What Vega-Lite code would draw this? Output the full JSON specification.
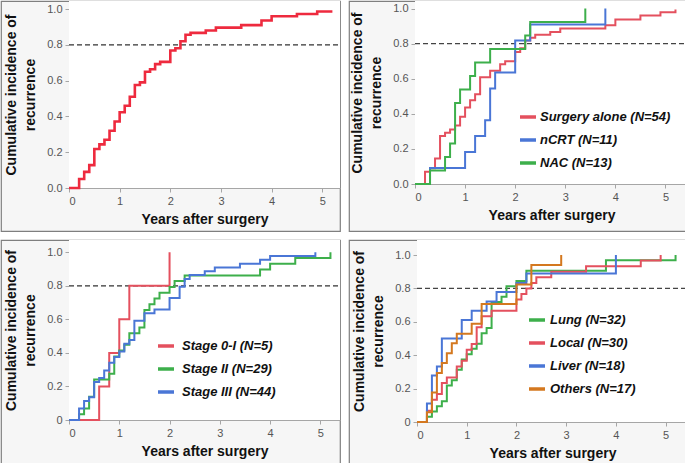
{
  "$schema": "https://vega.github.io/schema/vega-lite/v6.json",
  "padding": 0,
  "background": "white",
  "config": {
    "font": "Liberation Sans",
    "axis": {
      "grid": false,
      "domainColor": "#a6a6a6",
      "tickColor": "#a6a6a6",
      "tickSize": 4,
      "labelColor": "#555555",
      "labelFont": "Liberation Sans",
      "labelFontSize": 11,
      "titleFont": "Liberation Sans",
      "titleFontSize": 14,
      "titleFontWeight": "bold",
      "titleColor": "#111111"
    },
    "legend": {
      "orient": "none",
      "title": null,
      "symbolType": "stroke",
      "symbolSize": 256,
      "symbolStrokeWidth": 3.5,
      "labelFont": "Liberation Sans",
      "labelFontSize": 13,
      "labelFontWeight": "bold",
      "labelFontStyle": "italic",
      "labelColor": "#111111",
      "rowPadding": 6,
      "padding": 0
    }
  },
  "resolve": {"scale": {"color": "independent"}, "legend": {"color": "independent"}},
  "spacing": 7,
  "vconcat": [
    {
      "spacing": 6,
      "resolve": {"scale": {"color": "independent"}, "legend": {"color": "independent"}},
      "hconcat": [
        {
          "width": 339,
          "height": 230,
          "view": {"fill": "#f6f6f6", "stroke": "#7f7f7f", "strokeWidth": 1.2},
          "layer": [
            {
              "data": {"values": [{}]},
              "mark": {"type": "rect", "color": "white"},
              "encoding": {
                "x": {"datum": 0, "type": "quantitative", "scale": {"domain": [0, 5.35], "range": [68, 339], "nice": false}},
                "x2": {"datum": 5.35},
                "y": {"datum": 0, "type": "quantitative", "scale": {"domain": [0, 1.045], "range": [187, 0], "nice": false}},
                "y2": {"datum": 1.045}
              }
            },
            {
              "data": {"values": [{}]},
              "mark": {"type": "rule", "color": "#333333", "strokeDash": [5, 3], "strokeWidth": 1.2},
              "encoding": {
                "x": {"datum": 0, "type": "quantitative"},
                "x2": {"datum": 5.35},
                "y": {"datum": 0.8, "type": "quantitative"}
              }
            },
            {
              "data": {"values": [
                {"t": 0, "v": 0}, {"t": 0.2, "v": 0.05}, {"t": 0.3, "v": 0.09}, {"t": 0.4, "v": 0.128},
                {"t": 0.5, "v": 0.218}, {"t": 0.6, "v": 0.244}, {"t": 0.7, "v": 0.27}, {"t": 0.8, "v": 0.32},
                {"t": 0.9, "v": 0.372}, {"t": 1.0, "v": 0.423}, {"t": 1.1, "v": 0.46}, {"t": 1.2, "v": 0.51},
                {"t": 1.3, "v": 0.576}, {"t": 1.4, "v": 0.59}, {"t": 1.5, "v": 0.65}, {"t": 1.6, "v": 0.664},
                {"t": 1.7, "v": 0.692}, {"t": 1.8, "v": 0.705}, {"t": 2.0, "v": 0.768}, {"t": 2.1, "v": 0.781},
                {"t": 2.2, "v": 0.82}, {"t": 2.3, "v": 0.856}, {"t": 2.4, "v": 0.867}, {"t": 2.7, "v": 0.88},
                {"t": 2.9, "v": 0.896}, {"t": 3.4, "v": 0.91}, {"t": 3.8, "v": 0.936}, {"t": 4.0, "v": 0.96},
                {"t": 4.5, "v": 0.972}, {"t": 4.9, "v": 0.986}, {"t": 5.2, "v": 0.986}
              ]},
              "mark": {"type": "line", "interpolate": "step-after", "strokeWidth": 2.6, "color": "#ee2a3e"},
              "encoding": {
                "x": {"field": "t", "type": "quantitative",
                  "axis": {"title": "Years after surgery", "values": [0, 0.5, 1, 1.5, 2, 2.5, 3, 3.5, 4, 4.5, 5],
                    "labelExpr": "datum.value % 1 === 0 ? format(datum.value, 'd') : ''",
                    "offset": -43, "labelPadding": 3, "titlePadding": 6}},
                "y": {"field": "v", "type": "quantitative",
                  "axis": {"title": ["Cumulative incidence of", "recurrence"],
                    "values": [0, 0.1, 0.2, 0.3, 0.4, 0.5, 0.6, 0.7, 0.8, 0.9, 1.0],
                    "labelExpr": "round(datum.value * 10) % 2 === 0 ? format(datum.value, '.1f') : ''",
                    "offset": -68, "labelPadding": 3, "titlePadding": 9, "titleLineHeight": 19}}
              }
            }
          ]
        },
        {
          "width": 339,
          "height": 230,
          "view": {"fill": "#f6f6f6", "stroke": "#7f7f7f", "strokeWidth": 1.2},
          "layer": [
            {
              "data": {"values": [{}]},
              "mark": {"type": "rect", "color": "white"},
              "encoding": {
                "x": {"datum": 0, "type": "quantitative", "scale": {"domain": [0, 5.45], "range": [66, 339], "nice": false}},
                "x2": {"datum": 5.45},
                "y": {"datum": 0, "type": "quantitative", "scale": {"domain": [0, 1.043], "range": [183, 0], "nice": false}},
                "y2": {"datum": 1.043}
              }
            },
            {
              "data": {"values": [{}]},
              "mark": {"type": "rule", "color": "#444444", "strokeDash": [5, 3], "strokeWidth": 1.2},
              "encoding": {
                "x": {"datum": 0, "type": "quantitative"},
                "x2": {"datum": 5.45},
                "y": {"datum": 0.8, "type": "quantitative"}
              }
            },
            {
              "data": {"values": [
                {"g": "Surgery alone (N=54)", "t": 0, "v": 0}, {"g": "Surgery alone (N=54)", "t": 0.2, "v": 0.07},
                {"g": "Surgery alone (N=54)", "t": 0.3, "v": 0.09}, {"g": "Surgery alone (N=54)", "t": 0.4, "v": 0.145},
                {"g": "Surgery alone (N=54)", "t": 0.5, "v": 0.274}, {"g": "Surgery alone (N=54)", "t": 0.6, "v": 0.292},
                {"g": "Surgery alone (N=54)", "t": 0.7, "v": 0.311}, {"g": "Surgery alone (N=54)", "t": 0.8, "v": 0.333},
                {"g": "Surgery alone (N=54)", "t": 0.9, "v": 0.384}, {"g": "Surgery alone (N=54)", "t": 1.0, "v": 0.436},
                {"g": "Surgery alone (N=54)", "t": 1.1, "v": 0.478}, {"g": "Surgery alone (N=54)", "t": 1.2, "v": 0.512},
                {"g": "Surgery alone (N=54)", "t": 1.3, "v": 0.608}, {"g": "Surgery alone (N=54)", "t": 1.5, "v": 0.645},
                {"g": "Surgery alone (N=54)", "t": 1.7, "v": 0.682}, {"g": "Surgery alone (N=54)", "t": 1.8, "v": 0.70},
                {"g": "Surgery alone (N=54)", "t": 2.0, "v": 0.753}, {"g": "Surgery alone (N=54)", "t": 2.1, "v": 0.773},
                {"g": "Surgery alone (N=54)", "t": 2.2, "v": 0.818}, {"g": "Surgery alone (N=54)", "t": 2.3, "v": 0.833},
                {"g": "Surgery alone (N=54)", "t": 2.4, "v": 0.85}, {"g": "Surgery alone (N=54)", "t": 2.7, "v": 0.867},
                {"g": "Surgery alone (N=54)", "t": 2.9, "v": 0.886}, {"g": "Surgery alone (N=54)", "t": 3.8, "v": 0.905},
                {"g": "Surgery alone (N=54)", "t": 4.0, "v": 0.937}, {"g": "Surgery alone (N=54)", "t": 4.5, "v": 0.96},
                {"g": "Surgery alone (N=54)", "t": 4.9, "v": 0.979}, {"g": "Surgery alone (N=54)", "t": 5.2, "v": 0.994},
                {"g": "nCRT (N=11)", "t": 0, "v": 0}, {"g": "nCRT (N=11)", "t": 0.3, "v": 0.091},
                {"g": "nCRT (N=11)", "t": 1.0, "v": 0.182}, {"g": "nCRT (N=11)", "t": 1.2, "v": 0.273},
                {"g": "nCRT (N=11)", "t": 1.4, "v": 0.364}, {"g": "nCRT (N=11)", "t": 1.5, "v": 0.545},
                {"g": "nCRT (N=11)", "t": 1.6, "v": 0.636}, {"g": "nCRT (N=11)", "t": 2.0, "v": 0.818},
                {"g": "nCRT (N=11)", "t": 2.3, "v": 0.909}, {"g": "nCRT (N=11)", "t": 3.8, "v": 1.0},
                {"g": "NAC (N=13)", "t": 0, "v": 0}, {"g": "NAC (N=13)", "t": 0.3, "v": 0.077},
                {"g": "NAC (N=13)", "t": 0.6, "v": 0.154}, {"g": "NAC (N=13)", "t": 0.7, "v": 0.231},
                {"g": "NAC (N=13)", "t": 0.8, "v": 0.462}, {"g": "NAC (N=13)", "t": 0.9, "v": 0.538},
                {"g": "NAC (N=13)", "t": 1.1, "v": 0.615}, {"g": "NAC (N=13)", "t": 1.2, "v": 0.692},
                {"g": "NAC (N=13)", "t": 1.5, "v": 0.769}, {"g": "NAC (N=13)", "t": 2.2, "v": 0.846},
                {"g": "NAC (N=13)", "t": 2.3, "v": 0.923}, {"g": "NAC (N=13)", "t": 3.4, "v": 1.0}
              ]},
              "mark": {"type": "line", "interpolate": "step-after", "strokeWidth": 2},
              "encoding": {
                "x": {"field": "t", "type": "quantitative",
                  "axis": {"title": "Years after surgery", "values": [0, 0.5, 1, 1.5, 2, 2.5, 3, 3.5, 4, 4.5, 5],
                    "labelExpr": "datum.value % 1 === 0 ? format(datum.value, 'd') : ''",
                    "offset": -47, "labelPadding": 3, "titlePadding": 6}},
                "y": {"field": "v", "type": "quantitative",
                  "axis": {"title": ["Cumulative incidence of", "recurrence"],
                    "values": [0, 0.1, 0.2, 0.3, 0.4, 0.5, 0.6, 0.7, 0.8, 0.9, 1.0],
                    "labelExpr": "round(datum.value * 10) % 2 === 0 ? format(datum.value, '.1f') : ''",
                    "offset": -66, "labelPadding": 3, "titlePadding": 9, "titleLineHeight": 19}},
                "color": {"field": "g", "type": "nominal",
                  "scale": {"domain": ["Surgery alone (N=54)", "nCRT (N=11)", "NAC (N=13)"], "range": ["#e4505e", "#4a76d6", "#3daf4b"]},
                  "legend": {"legendX": 169, "legendY": 106, "labelOffset": 2}}
              }
            }
          ]
        }
      ]
    },
    {
      "spacing": 6,
      "resolve": {"scale": {"color": "independent"}, "legend": {"color": "independent"}},
      "hconcat": [
        {
          "width": 339,
          "height": 225,
          "view": {"fill": "#f6f6f6", "stroke": "#7f7f7f", "strokeWidth": 1.2},
          "layer": [
            {
              "data": {"values": [{}]},
              "mark": {"type": "rect", "color": "white"},
              "encoding": {
                "x": {"datum": 0, "type": "quantitative", "scale": {"domain": [0, 5.39], "range": [68, 339], "nice": false}},
                "x2": {"datum": 5.39},
                "y": {"datum": 0, "type": "quantitative", "scale": {"domain": [0, 1.073], "range": [180, 0], "nice": false}},
                "y2": {"datum": 1.073}
              }
            },
            {
              "data": {"values": [{}]},
              "mark": {"type": "rule", "color": "#333333", "strokeDash": [5, 3], "strokeWidth": 1.2},
              "encoding": {
                "x": {"datum": 0, "type": "quantitative"},
                "x2": {"datum": 5.39},
                "y": {"datum": 0.8, "type": "quantitative"}
              }
            },
            {
              "data": {"values": [
                {"g": "Stage 0-I (N=5)", "t": 0, "v": 0}, {"g": "Stage 0-I (N=5)", "t": 0.6, "v": 0.2},
                {"g": "Stage 0-I (N=5)", "t": 0.8, "v": 0.4}, {"g": "Stage 0-I (N=5)", "t": 1.0, "v": 0.6},
                {"g": "Stage 0-I (N=5)", "t": 1.2, "v": 0.8}, {"g": "Stage 0-I (N=5)", "t": 2.0, "v": 1.0},
                {"g": "Stage II (N=29)", "t": 0, "v": 0}, {"g": "Stage II (N=29)", "t": 0.2, "v": 0.034},
                {"g": "Stage II (N=29)", "t": 0.3, "v": 0.069}, {"g": "Stage II (N=29)", "t": 0.4, "v": 0.138},
                {"g": "Stage II (N=29)", "t": 0.5, "v": 0.241}, {"g": "Stage II (N=29)", "t": 0.8, "v": 0.276},
                {"g": "Stage II (N=29)", "t": 0.9, "v": 0.379}, {"g": "Stage II (N=29)", "t": 1.0, "v": 0.414},
                {"g": "Stage II (N=29)", "t": 1.1, "v": 0.448}, {"g": "Stage II (N=29)", "t": 1.2, "v": 0.517},
                {"g": "Stage II (N=29)", "t": 1.4, "v": 0.552}, {"g": "Stage II (N=29)", "t": 1.5, "v": 0.655},
                {"g": "Stage II (N=29)", "t": 1.6, "v": 0.69}, {"g": "Stage II (N=29)", "t": 1.7, "v": 0.724},
                {"g": "Stage II (N=29)", "t": 1.8, "v": 0.759}, {"g": "Stage II (N=29)", "t": 2.0, "v": 0.793},
                {"g": "Stage II (N=29)", "t": 2.1, "v": 0.828}, {"g": "Stage II (N=29)", "t": 2.3, "v": 0.862},
                {"g": "Stage II (N=29)", "t": 3.8, "v": 0.897}, {"g": "Stage II (N=29)", "t": 4.0, "v": 0.931},
                {"g": "Stage II (N=29)", "t": 4.5, "v": 0.966}, {"g": "Stage II (N=29)", "t": 5.2, "v": 1.0},
                {"g": "Stage III (N=44)", "t": 0, "v": 0}, {"g": "Stage III (N=44)", "t": 0.2, "v": 0.068},
                {"g": "Stage III (N=44)", "t": 0.3, "v": 0.114}, {"g": "Stage III (N=44)", "t": 0.4, "v": 0.136},
                {"g": "Stage III (N=44)", "t": 0.5, "v": 0.227}, {"g": "Stage III (N=44)", "t": 0.6, "v": 0.25},
                {"g": "Stage III (N=44)", "t": 0.7, "v": 0.295}, {"g": "Stage III (N=44)", "t": 0.8, "v": 0.341},
                {"g": "Stage III (N=44)", "t": 0.9, "v": 0.375}, {"g": "Stage III (N=44)", "t": 1.0, "v": 0.409},
                {"g": "Stage III (N=44)", "t": 1.1, "v": 0.455}, {"g": "Stage III (N=44)", "t": 1.2, "v": 0.477},
                {"g": "Stage III (N=44)", "t": 1.3, "v": 0.591}, {"g": "Stage III (N=44)", "t": 1.5, "v": 0.636},
                {"g": "Stage III (N=44)", "t": 1.7, "v": 0.659}, {"g": "Stage III (N=44)", "t": 2.0, "v": 0.727},
                {"g": "Stage III (N=44)", "t": 2.2, "v": 0.795}, {"g": "Stage III (N=44)", "t": 2.3, "v": 0.841},
                {"g": "Stage III (N=44)", "t": 2.4, "v": 0.864}, {"g": "Stage III (N=44)", "t": 2.7, "v": 0.886},
                {"g": "Stage III (N=44)", "t": 2.9, "v": 0.909}, {"g": "Stage III (N=44)", "t": 3.4, "v": 0.932},
                {"g": "Stage III (N=44)", "t": 3.8, "v": 0.955}, {"g": "Stage III (N=44)", "t": 4.0, "v": 0.977},
                {"g": "Stage III (N=44)", "t": 4.9, "v": 1.0}
              ]},
              "mark": {"type": "line", "interpolate": "step-after", "strokeWidth": 2},
              "encoding": {
                "x": {"field": "t", "type": "quantitative",
                  "axis": {"title": "Years after surgery", "values": [0, 0.5, 1, 1.5, 2, 2.5, 3, 3.5, 4, 4.5, 5],
                    "labelExpr": "datum.value % 1 === 0 ? format(datum.value, 'd') : ''",
                    "offset": -45, "labelPadding": 3, "titlePadding": 6}},
                "y": {"field": "v", "type": "quantitative",
                  "axis": {"title": ["Cumulative incidence of", "recurrence"],
                    "values": [0, 0.1, 0.2, 0.3, 0.4, 0.5, 0.6, 0.7, 0.8, 0.9, 1.0],
                    "labelExpr": "datum.value === 0 ? '0' : (round(datum.value * 10) % 2 === 0 ? format(datum.value, '.1f') : '')",
                    "offset": -68, "labelPadding": 3, "titlePadding": 9, "titleLineHeight": 19}},
                "color": {"field": "g", "type": "nominal",
                  "scale": {"domain": ["Stage 0-I (N=5)", "Stage II (N=29)", "Stage III (N=44)"], "range": ["#e4505e", "#3daf4b", "#4a76d6"]},
                  "legend": {"legendX": 155, "legendY": 96, "labelOffset": 6}}
              }
            }
          ]
        },
        {
          "width": 339,
          "height": 225,
          "view": {"fill": "#f6f6f6", "stroke": "#7f7f7f", "strokeWidth": 1.2},
          "layer": [
            {
              "data": {"values": [{}]},
              "mark": {"type": "rect", "color": "white"},
              "encoding": {
                "x": {"datum": 0, "type": "quantitative", "scale": {"domain": [0, 5.45], "range": [68, 339], "nice": false}},
                "x2": {"datum": 5.45},
                "y": {"datum": 0, "type": "quantitative", "scale": {"domain": [0, 1.09], "range": [182, 0], "nice": false}},
                "y2": {"datum": 1.09}
              }
            },
            {
              "data": {"values": [{}]},
              "mark": {"type": "rule", "color": "#444444", "strokeDash": [5, 3], "strokeWidth": 1.2},
              "encoding": {
                "x": {"datum": 0, "type": "quantitative"},
                "x2": {"datum": 5.45},
                "y": {"datum": 0.8, "type": "quantitative"}
              }
            },
            {
              "data": {"values": [
                {"g": "Lung (N=32)", "t": 0, "v": 0}, {"g": "Lung (N=32)", "t": 0.2, "v": 0.031},
                {"g": "Lung (N=32)", "t": 0.3, "v": 0.063}, {"g": "Lung (N=32)", "t": 0.4, "v": 0.094},
                {"g": "Lung (N=32)", "t": 0.5, "v": 0.125}, {"g": "Lung (N=32)", "t": 0.6, "v": 0.219},
                {"g": "Lung (N=32)", "t": 0.7, "v": 0.25}, {"g": "Lung (N=32)", "t": 0.8, "v": 0.313},
                {"g": "Lung (N=32)", "t": 0.9, "v": 0.375}, {"g": "Lung (N=32)", "t": 1.0, "v": 0.406},
                {"g": "Lung (N=32)", "t": 1.1, "v": 0.438}, {"g": "Lung (N=32)", "t": 1.2, "v": 0.469},
                {"g": "Lung (N=32)", "t": 1.3, "v": 0.531}, {"g": "Lung (N=32)", "t": 1.4, "v": 0.563},
                {"g": "Lung (N=32)", "t": 1.5, "v": 0.719}, {"g": "Lung (N=32)", "t": 1.7, "v": 0.75},
                {"g": "Lung (N=32)", "t": 1.8, "v": 0.813}, {"g": "Lung (N=32)", "t": 2.0, "v": 0.844},
                {"g": "Lung (N=32)", "t": 2.2, "v": 0.906}, {"g": "Lung (N=32)", "t": 3.8, "v": 0.969},
                {"g": "Lung (N=32)", "t": 5.2, "v": 1.0},
                {"g": "Local (N=30)", "t": 0, "v": 0}, {"g": "Local (N=30)", "t": 0.2, "v": 0.067},
                {"g": "Local (N=30)", "t": 0.3, "v": 0.133}, {"g": "Local (N=30)", "t": 0.4, "v": 0.167},
                {"g": "Local (N=30)", "t": 0.5, "v": 0.233}, {"g": "Local (N=30)", "t": 0.6, "v": 0.267},
                {"g": "Local (N=30)", "t": 0.8, "v": 0.333}, {"g": "Local (N=30)", "t": 0.9, "v": 0.367},
                {"g": "Local (N=30)", "t": 1.0, "v": 0.433}, {"g": "Local (N=30)", "t": 1.1, "v": 0.467},
                {"g": "Local (N=30)", "t": 1.2, "v": 0.567}, {"g": "Local (N=30)", "t": 1.3, "v": 0.633},
                {"g": "Local (N=30)", "t": 1.5, "v": 0.667}, {"g": "Local (N=30)", "t": 2.0, "v": 0.733},
                {"g": "Local (N=30)", "t": 2.1, "v": 0.767}, {"g": "Local (N=30)", "t": 2.2, "v": 0.8},
                {"g": "Local (N=30)", "t": 2.3, "v": 0.833}, {"g": "Local (N=30)", "t": 2.4, "v": 0.867},
                {"g": "Local (N=30)", "t": 2.7, "v": 0.9}, {"g": "Local (N=30)", "t": 3.4, "v": 0.933},
                {"g": "Local (N=30)", "t": 4.5, "v": 0.967}, {"g": "Local (N=30)", "t": 4.9, "v": 1.0},
                {"g": "Liver (N=18)", "t": 0, "v": 0}, {"g": "Liver (N=18)", "t": 0.2, "v": 0.111},
                {"g": "Liver (N=18)", "t": 0.3, "v": 0.278}, {"g": "Liver (N=18)", "t": 0.4, "v": 0.333},
                {"g": "Liver (N=18)", "t": 0.5, "v": 0.5}, {"g": "Liver (N=18)", "t": 0.9, "v": 0.611},
                {"g": "Liver (N=18)", "t": 1.1, "v": 0.667}, {"g": "Liver (N=18)", "t": 1.4, "v": 0.722},
                {"g": "Liver (N=18)", "t": 1.6, "v": 0.778}, {"g": "Liver (N=18)", "t": 2.0, "v": 0.833},
                {"g": "Liver (N=18)", "t": 2.2, "v": 0.889}, {"g": "Liver (N=18)", "t": 4.0, "v": 1.0},
                {"g": "Others (N=17)", "t": 0, "v": 0}, {"g": "Others (N=17)", "t": 0.2, "v": 0.059},
                {"g": "Others (N=17)", "t": 0.3, "v": 0.176}, {"g": "Others (N=17)", "t": 0.4, "v": 0.294},
                {"g": "Others (N=17)", "t": 0.5, "v": 0.353}, {"g": "Others (N=17)", "t": 0.6, "v": 0.412},
                {"g": "Others (N=17)", "t": 0.7, "v": 0.471}, {"g": "Others (N=17)", "t": 0.8, "v": 0.529},
                {"g": "Others (N=17)", "t": 1.1, "v": 0.588}, {"g": "Others (N=17)", "t": 1.3, "v": 0.706},
                {"g": "Others (N=17)", "t": 2.0, "v": 0.824}, {"g": "Others (N=17)", "t": 2.3, "v": 0.941},
                {"g": "Others (N=17)", "t": 2.9, "v": 1.0}
              ]},
              "mark": {"type": "line", "interpolate": "step-after", "strokeWidth": 2},
              "encoding": {
                "x": {"field": "t", "type": "quantitative",
                  "axis": {"title": "Years after surgery", "values": [0, 0.5, 1, 1.5, 2, 2.5, 3, 3.5, 4, 4.5, 5],
                    "labelExpr": "datum.value % 1 === 0 ? format(datum.value, 'd') : ''",
                    "offset": -43, "labelPadding": 3, "titlePadding": 6}},
                "y": {"field": "v", "type": "quantitative",
                  "axis": {"title": ["Cumulative incidence of", "recurrence"],
                    "values": [0, 0.1, 0.2, 0.3, 0.4, 0.5, 0.6, 0.7, 0.8, 0.9, 1.0],
                    "labelExpr": "datum.value === 0 ? '0' : (round(datum.value * 10) % 2 === 0 ? format(datum.value, '.1f') : '')",
                    "offset": -68, "labelPadding": 3, "titlePadding": 9, "titleLineHeight": 19}},
                "color": {"field": "g", "type": "nominal",
                  "scale": {"domain": ["Lung (N=32)", "Local (N=30)", "Liver (N=18)", "Others (N=17)"], "range": ["#3daf4b", "#e4505e", "#4a76d6", "#d4781f"]},
                  "legend": {"legendX": 178, "legendY": 70, "labelOffset": 3}}
              }
            }
          ]
        }
      ]
    }
  ]
}
